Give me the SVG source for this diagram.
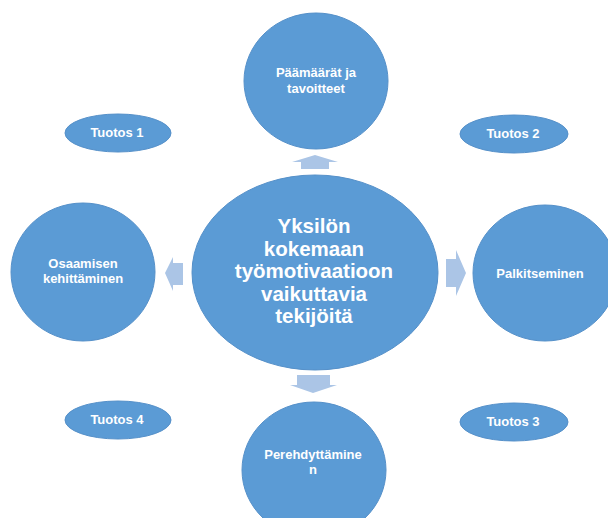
<svg xmlns="http://www.w3.org/2000/svg" width="608" height="518" viewBox="0 0 608 518">
<style>
.n{fill:#5b9bd5;stroke:#5590c9;stroke-width:1}
.t{fill:#ffffff;font-family:"Liberation Sans",Arial,sans-serif;font-weight:bold;text-anchor:middle}
.s{font-size:13px}
.b{font-size:20.5px}
.a{fill:#abc5e6}
</style>
<rect width="608" height="518" fill="#ffffff"/>
<g id="connectors">
<polygon class="a" points="315,155 338,162 329,162 329,169 301,169 301,162 292,162"/>
<polygon class="a" points="313,393 337,385 330,385 330,375 297,375 297,385 290,385"/>
<polygon class="a" points="165,273 173,257 173,263 183,263 183,285 173,285 173,291"/>
<polygon class="a" points="466,273 456,250 456,259 446,259 446,287 456,287 456,296"/>
</g>
<g id="center">
<ellipse class="n" cx="315" cy="272.5" rx="123" ry="97.5"/>
<text class="t b" x="314" y="233">Yksilön</text>
<text class="t b" x="314" y="255.5">kokemaan</text>
<text class="t b" x="314" y="278">työmotivaatioon</text>
<text class="t b" x="314" y="300.5">vaikuttavia</text>
<text class="t b" x="314" y="323">tekijöitä</text>
</g>
<g id="top">
<ellipse class="n" cx="316" cy="81" rx="72" ry="68"/>
<text class="t s" x="316" y="77">Päämäärät ja</text>
<text class="t s" x="316" y="93">tavoitteet</text>
</g>
<g id="left">
<ellipse class="n" cx="83" cy="272" rx="72" ry="69"/>
<text class="t s" x="83" y="268">Osaamisen</text>
<text class="t s" x="83" y="283">kehittäminen</text>
</g>
<g id="right">
<ellipse class="n" cx="545" cy="273" rx="72" ry="68"/>
<text class="t s" x="540" y="278">Palkitseminen</text>
</g>
<g id="bottom">
<ellipse class="n" cx="314" cy="470" rx="72" ry="68"/>
<text class="t s" x="313" y="459">Perehdyttämine</text>
<text class="t s" x="313" y="474">n</text>
</g>
<g id="tuotos1">
<ellipse class="n" cx="118" cy="133" rx="53" ry="19"/>
<text class="t s" x="117" y="137">Tuotos 1</text>
</g>
<g id="tuotos2">
<ellipse class="n" cx="514" cy="134" rx="54" ry="19"/>
<text class="t s" x="513" y="138">Tuotos 2</text>
</g>
<g id="tuotos3">
<ellipse class="n" cx="514" cy="422" rx="54" ry="19"/>
<text class="t s" x="513" y="426">Tuotos 3</text>
</g>
<g id="tuotos4">
<ellipse class="n" cx="118" cy="420" rx="53" ry="19"/>
<text class="t s" x="117" y="424">Tuotos 4</text>
</g>
</svg>
